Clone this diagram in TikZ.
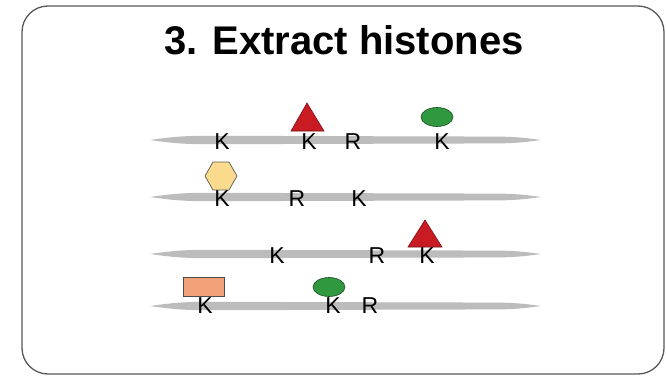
\documentclass[tikz,border=0pt]{standalone}
\usepackage{fontspec}
\setmainfont{Liberation Sans}
\usetikzlibrary{shapes.geometric}
\definecolor{mkred}{RGB}{200,28,34}
\definecolor{mkgreen}{RGB}{48,152,62}
\definecolor{mkhex}{RGB}{250,218,140}
\definecolor{mkrect}{RGB}{242,160,120}
\definecolor{strand}{RGB}{188,188,188}
\begin{document}
\begin{tikzpicture}[x=1pt,y=-1pt,
  res/.style={font=\fontsize{23}{23}\selectfont, anchor=base, inner sep=0pt, text=black},
  brush/.style={fill=strand, draw=none},
  redmark/.style={fill=mkred, draw=mkred!60!black, line width=0.6pt},
  greenmark/.style={fill=mkgreen, draw=mkgreen!50!black, line width=0.6pt},
  hexmark/.style={fill=mkhex, draw=gray!70!black, line width=0.7pt},
  rectmark/.style={fill=mkrect, draw=black!70, line width=0.7pt}]
\useasboundingbox (0,0) rectangle (666,377);
\fill[white] (0,0) rectangle (666,377);
% frame
\draw[line width=1.3pt, draw=black!65, rounded corners=26pt] (22,6) rectangle (664,374);
\node[font=\bfseries\fontsize{40}{40}\selectfont, anchor=base] (title) at (344,55) {3. Extract histones};
% chromatin strands
\foreach \yy/\nm in {140/s1,197/s2,254/s3,306/s4}{
  \fill[brush] (150,\yy) .. controls (175,\yy-3.5) and (185,\yy-4.2) .. (210,\yy-4.2)
     -- (500,\yy-3.4) .. controls (520,\yy-3) and (530,\yy-1.5) .. (541,\yy)
     .. controls (530,\yy+1.5) and (520,\yy+3) .. (500,\yy+3.4)
     -- (210,\yy+4.2) .. controls (185,\yy+4.2) and (175,\yy+3.5) .. (150,\yy) -- cycle;
  \coordinate (\nm) at (345,\yy);
}
% marks
\filldraw[redmark] (307,103) -- (324,131) -- (291,131) -- cycle;
\node[greenmark, ellipse, minimum width=32pt, minimum height=19pt, inner sep=0pt] (g1) at (437,117) {};
\filldraw[hexmark] (205,176) -- (213,162) -- (229,162) -- (237,176) -- (229,190) -- (213,190) -- cycle;
\filldraw[redmark] (425,220) -- (442,247) -- (408,247) -- cycle;
\node[rectmark, rectangle, minimum width=41pt, minimum height=19pt, inner sep=0pt] (o1) at (203.5,286.5) {};
\node[greenmark, ellipse, minimum width=32pt, minimum height=19pt, inner sep=0pt] (g2) at (329,287) {};
% residues
\node[res] (r1a) at (222,149) {K};
\node[res] (r1b) at (309,149) {K};
\node[res] (r1c) at (353,149) {R};
\node[res] (r1d) at (442,149) {K};
\node[res] (r2a) at (222,206) {K};
\node[res] (r2b) at (297,206) {R};
\node[res] (r2c) at (359,206) {K};
\node[res] (r3a) at (277,263) {K};
\node[res] (r3b) at (377,263) {R};
\node[res] (r3c) at (427,263) {K};
\node[res] (r4a) at (205,313) {K};
\node[res] (r4b) at (333,313) {K};
\node[res] (r4c) at (370,313) {R};
\end{tikzpicture}
\end{document}
